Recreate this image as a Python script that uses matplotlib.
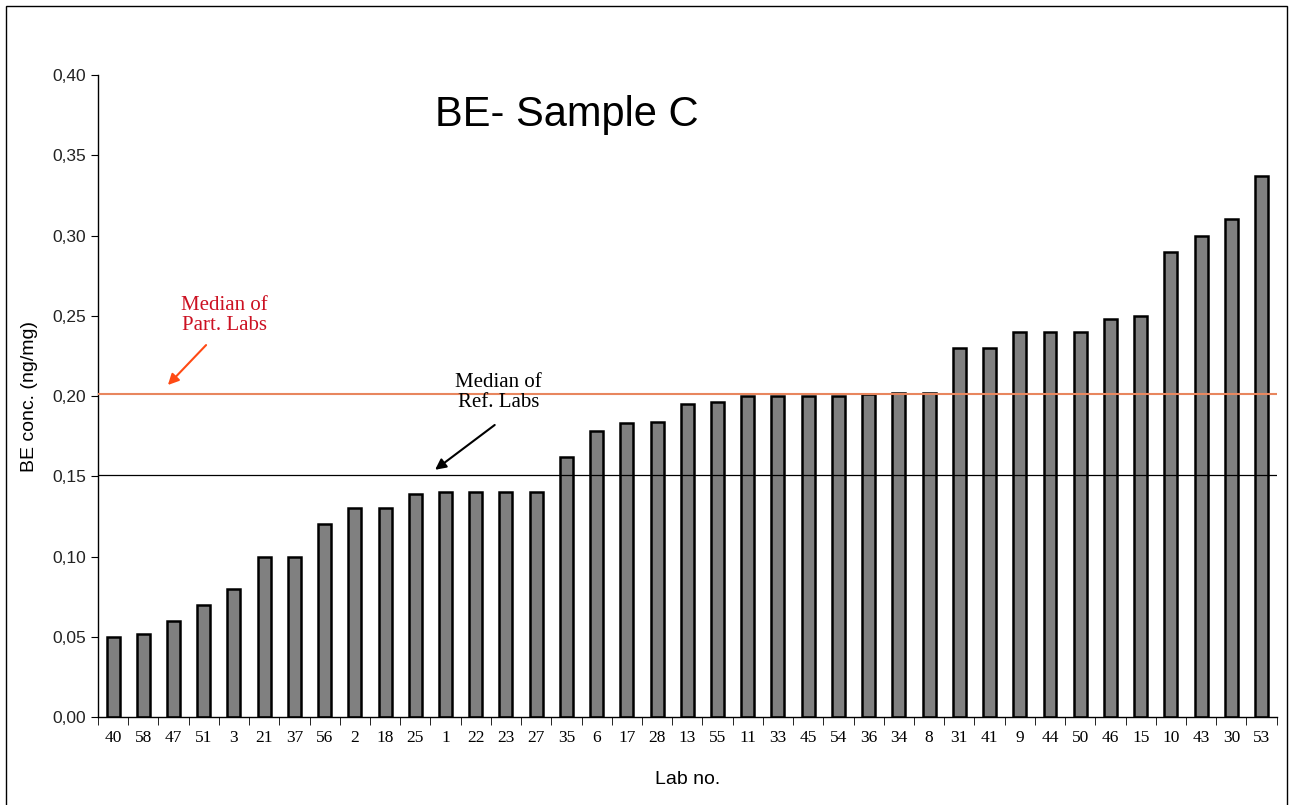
import numpy as np
import matplotlib.pyplot as plt
from matplotlib.patches import Rectangle

# lab numbers in plotted order and their BE results (ng/mg)
labs = ["40", "58", "47", "51", "3", "21", "37", "56", "2", "18", "25", "1", "22",
        "23", "27", "35", "6", "17", "28", "13", "55", "11", "33", "45", "54", "36",
        "34", "8", "31", "41", "9", "44", "50", "46", "15", "10", "43", "30", "53"]
conc = [0.050, 0.052, 0.060, 0.070, 0.080, 0.100, 0.100, 0.120, 0.130, 0.130,
        0.139, 0.140, 0.140, 0.140, 0.140, 0.162, 0.178, 0.183, 0.184, 0.195,
        0.196, 0.200, 0.200, 0.200, 0.200, 0.201, 0.202, 0.202, 0.230, 0.230,
        0.240, 0.240, 0.240, 0.248, 0.250, 0.290, 0.300, 0.310, 0.337]

median_part = 0.201
median_ref = 0.151

fig = plt.figure(figsize=(12.91, 8.05), dpi=100)
ax = fig.add_axes([0.0759, 0.1093, 0.913, 0.7975])

x = np.arange(len(labs))
ax.bar(x, conc, width=0.43, color="#808080", edgecolor="black", linewidth=1.8, zorder=2)

ax.axhline(median_part, color="#e8865e", linewidth=1.5, zorder=3)
ax.axhline(median_ref, color="black", linewidth=0.9, zorder=3)

ax.set_xlim(-0.5, len(labs) - 0.5)
ax.set_ylim(0, 0.40)
ax.set_yticks(np.arange(0, 0.401, 0.05))
ax.set_yticklabels([f"{v:.2f}".replace(".", ",") for v in np.arange(0, 0.401, 0.05)],
                   family="Liberation Sans", fontsize=12.5, color="#222222")

# labels centred under bars, tick marks at the category boundaries
ax.set_xticks(x)
ax.set_xticklabels(labs, family="Liberation Serif", fontsize=12.5)
ax.tick_params(axis="x", which="major", length=0, pad=9)
ax.set_xticks(np.arange(-0.5, len(labs)), minor=True)
ax.tick_params(axis="x", which="minor", length=6, direction="out")
ax.tick_params(axis="y", length=5, direction="out")

for s in ["top", "right"]:
    ax.spines[s].set_visible(False)
ax.spines["left"].set_linewidth(1.0)
ax.spines["bottom"].set_linewidth(1.0)

ax.set_ylabel("BE conc. (ng/mg)", family="Liberation Sans", fontsize=14, labelpad=10)
ax.set_xlabel("Lab no.", family="Liberation Sans", fontsize=14, labelpad=18)

ax.text(15.0, 0.375, "BE- Sample C", family="Liberation Sans", fontsize=30,
        ha="center", va="center")

ax.text(3.67, 0.250, "Median of\nPart. Labs", family="Liberation Serif", fontsize=15,
        color="#cc1122", ha="center", va="center", linespacing=1.05)
ax.annotate("", xy=(1.75, 0.2056), xytext=(3.14, 0.233),
            arrowprops=dict(arrowstyle="-|>", color="#ff4a14", lw=1.5, mutation_scale=16))

ax.text(12.75, 0.202, "Median of\nRef. Labs", family="Liberation Serif", fontsize=15,
        color="black", ha="center", va="center", linespacing=1.05)
ax.annotate("", xy=(10.58, 0.153), xytext=(12.7, 0.183),
            arrowprops=dict(arrowstyle="-|>", color="black", lw=1.5, mutation_scale=16))

# outer frame around the chart area
fig.patches.append(Rectangle((0.005, -0.01), 0.992, 1.003, transform=fig.transFigure,
                             fill=False, edgecolor="black", linewidth=1.0))

fig.savefig("out.png", dpi=100)
